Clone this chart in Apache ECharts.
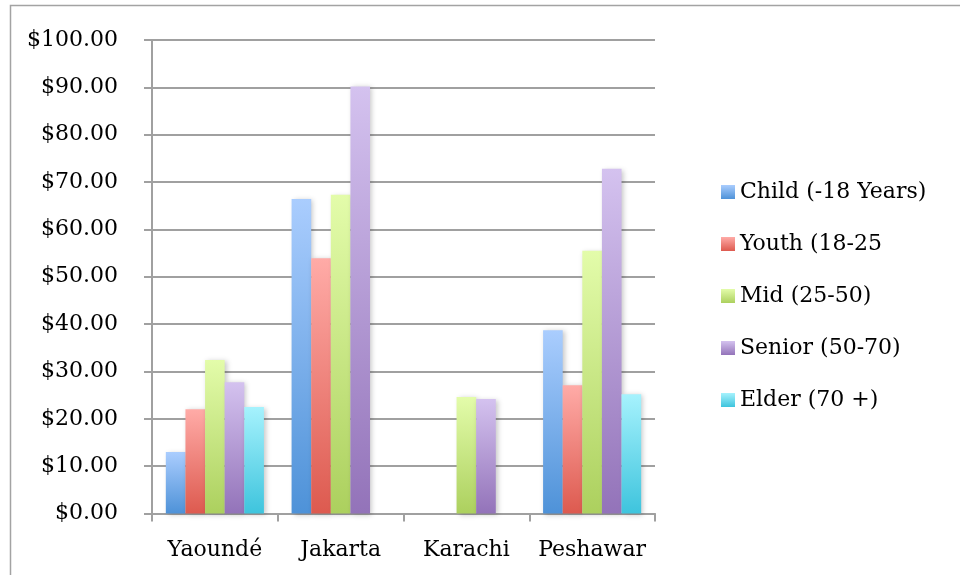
<!DOCTYPE html>
<html>
<head>
<meta charset="utf-8">
<script src="https://cdn.jsdelivr.net/npm/echarts@6/dist/echarts.min.js"></script>
<style>
  html, body { margin: 0; padding: 0; background: #fff; }
  #chart { width: 960px; height: 575px; }
</style>
</head>
<body>
<div id="chart"></div>
<script>
// Cities along the category axis
var cities = ['Yaoundé', 'Jakarta', 'Karachi', 'Peshawar'];

// Average spend per age group (USD); null where no value was recorded
var childValues  = [13.0, 66.4, null, 38.7];
var youthValues  = [22.0, 53.9, null, 27.1];
var midValues    = [32.4, 67.3, 24.6, 55.5];
var seniorValues = [27.7, 90.2, 24.2, 72.8];
var elderValues  = [22.5, null, null, 25.2];

var seriesNames = ['Child (-18 Years)', 'Youth (18-25', 'Mid (25-50)', 'Senior (50-70)', 'Elder (70 +)'];

var yMin = 0, yMax = 100, yStep = 10;

var FONT = '"DejaVu Serif", "Liberation Serif", serif';

function grad(top, bottom) {
  return new echarts.graphic.LinearGradient(0, 0, 0, 1, [
    { offset: 0, color: top },
    { offset: 1, color: bottom }
  ]);
}

var palette = [
  ['#aacdfe', '#4e92d8'],
  ['#ffaba7', '#dd5a4f'],
  ['#e3fcaa', '#acd05e'],
  ['#d4c2ef', '#9373b9'],
  ['#a6f2fd', '#3ec4dd']
];

var valueSets = [childValues, youthValues, midValues, seniorValues, elderValues];

var series = valueSets.map(function (vals, i) {
  return {
    name: seriesNames[i],
    type: 'bar',
    data: vals.map(function (v) { return v === null ? '-' : v; }),
    barGap: '0%',
    barCategoryGap: '22%',
    itemStyle: {
      color: grad(palette[i][0], palette[i][1]),
      shadowColor: 'rgba(0,0,0,0.22)',
      shadowBlur: 5,
      shadowOffsetX: 2,
      shadowOffsetY: 1
    },
    emphasis: { disabled: true },
    animation: false
  };
});

var axisGray = '#a0a0a0';

var chart = echarts.init(document.getElementById('chart'), null, { renderer: 'canvas' });
chart.setOption({
  animation: false,
  graphic: [{
    type: 'rect',
    shape: { x: 10.5, y: 5.5, width: 1000, height: 700 },
    style: { fill: 'none', stroke: '#a3a3a3', lineWidth: 1.5 },
    z: -10
  }],
  grid: { left: 152, right: 305, top: 40, bottom: 61.5, containLabel: false },
  legend: {
    orient: 'vertical',
    left: 721,
    top: 181,
    padding: 0,
    itemWidth: 14,
    itemHeight: 14,
    itemGap: 30,
    icon: 'rect',
    textStyle: { fontFamily: FONT, fontSize: 22, color: '#000', lineHeight: 22 },
    selectedMode: false,
    data: seriesNames
  },
  xAxis: {
    type: 'category',
    data: cities,
    axisLine: { lineStyle: { color: axisGray, width: 2 } },
    axisTick: { show: true, length: 8, lineStyle: { color: axisGray, width: 2 } },
    axisLabel: { fontFamily: FONT, fontSize: 22, color: '#000', margin: 26, interval: 0 },
    splitLine: { show: false }
  },
  yAxis: {
    type: 'value',
    min: yMin,
    max: yMax,
    interval: yStep,
    axisLine: { show: true, lineStyle: { color: axisGray, width: 2 } },
    axisTick: { show: true, length: 8, lineStyle: { color: axisGray, width: 2 } },
    axisLabel: {
      fontFamily: FONT, fontSize: 22, color: '#000', margin: 34,
      formatter: function (v) { return '$' + v.toFixed(2); }
    },
    splitLine: { show: true, lineStyle: { color: axisGray, width: 2 } }
  },
  series: series
});
</script>
</body>
</html>
